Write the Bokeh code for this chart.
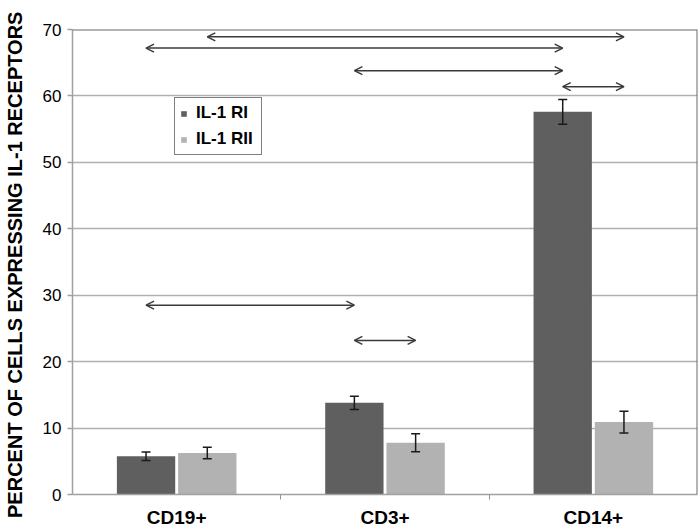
from bokeh.plotting import figure
from bokeh.models import (ColumnDataSource, Range1d, FixedTicker, Whisker, TeeHead,
                          Arrow, OpenHead, Legend, LegendItem, Span)
from bokeh.embed import file_html
from bokeh.resources import INLINE

# ---- data ----
categories = ["CD19+", "CD3+", "CD14+"]
series_names = ["IL-1 RI", "IL-1 RII"]
il1_ri = [5.75, 13.8, 57.6]
il1_ri_err = [0.63, 1.0, 1.85]
il1_rii = [6.25, 7.8, 10.9]
il1_rii_err = [0.88, 1.35, 1.65]
y_ticks = [0, 10, 20, 30, 40, 50, 60, 70]

# significance comparisons: (category index, series index) -> (category index, series index), level
cmp_from = [(0, 1), (0, 0), (1, 0), (2, 0), (0, 0), (1, 0)]
cmp_to = [(2, 1), (2, 0), (2, 0), (2, 1), (1, 0), (1, 1)]
cmp_level = [68.9, 67.2, 63.8, 61.4, 28.5, 23.2]

colors = ["#5f5f5f", "#b2b2b2"]
bar_w = 0.28
offsets = [-0.147, 0.147]

def xpos(ci, si):
    return ci + 0.5 + offsets[si]

p = figure(width=698, height=530, output_backend="svg", toolbar_location=None,
           x_range=Range1d(0, 3), y_range=Range1d(0, 70),
           min_border_left=70, min_border_right=1, min_border_top=29, min_border_bottom=33)
p.outline_line_color = None
p.background_fill_color = "white"

renderers = []
for si, (vals, errs) in enumerate([(il1_ri, il1_ri_err), (il1_rii, il1_rii_err)]):
    xs = [xpos(ci, si) for ci in range(len(categories))]
    src = ColumnDataSource(dict(x=xs, top=vals,
                                upper=[v + e for v, e in zip(vals, errs)],
                                lower=[v - e for v, e in zip(vals, errs)]))
    r = p.vbar(x="x", top="top", width=bar_w, bottom=0, source=src,
               fill_color=colors[si], line_color=None)
    renderers.append(r)
    w = Whisker(base="x", upper="upper", lower="lower", source=src, level="overlay",
                line_color="#1a1a1a", line_width=1.5,
                upper_head=TeeHead(size=9, line_color="#1a1a1a", line_width=1.5),
                lower_head=TeeHead(size=9, line_color="#1a1a1a", line_width=1.5))
    p.add_layout(w)

for (a, b, lvl) in zip(cmp_from, cmp_to, cmp_level):
    p.add_layout(Arrow(start=OpenHead(size=8, line_color="#3a3a3a", line_width=1.5),
                       end=OpenHead(size=8, line_color="#3a3a3a", line_width=1.5),
                       x_start=xpos(*a), y_start=lvl, x_end=xpos(*b), y_end=lvl,
                       line_color="#3a3a3a", line_width=1.5, level="overlay"))

# frame top/right borders
p.add_layout(Span(location=70, dimension="width", line_color="#6a6a6a", line_width=2))
p.add_layout(Span(location=3, dimension="height", line_color="#6a6a6a", line_width=2))

# axes
p.xaxis.ticker = FixedTicker(ticks=[i + 0.5 for i in range(len(categories))], minor_ticks=[1, 2])
p.xaxis.major_label_overrides = {i + 0.5: c for i, c in enumerate(categories)}
p.xaxis.major_tick_out = 0
p.xaxis.major_tick_in = 0
p.xaxis.minor_tick_out = 5
p.xaxis.minor_tick_in = 0
p.xaxis.minor_tick_line_color = "#909090"
p.xaxis.axis_line_color = "#a0a0a0"
p.xaxis.axis_line_width = 1.5
p.xaxis.major_label_text_font = "Liberation Sans"
p.xaxis.major_label_text_font_style = "bold"
p.xaxis.major_label_text_font_size = "19px"
p.xaxis.major_label_text_color = "black"
p.xaxis.major_label_standoff = 7

p.yaxis.ticker = FixedTicker(ticks=y_ticks, minor_ticks=[])
p.yaxis.major_tick_out = 5
p.yaxis.major_tick_in = 0
p.yaxis.major_tick_line_color = "#a0a0a0"
p.yaxis.major_tick_line_width = 1.5
p.yaxis.axis_line_color = "#a0a0a0"
p.yaxis.axis_line_width = 1.5
p.yaxis.major_label_text_font = "Liberation Sans"
p.yaxis.major_label_text_font_size = "17px"
p.yaxis.major_label_text_color = "black"
p.yaxis.major_label_standoff = 6
p.yaxis.axis_label = "PERCENT OF CELLS EXPRESSING  IL-1 RECEPTORS"
p.yaxis.axis_label_text_font = "Liberation Sans"
p.yaxis.axis_label_text_font_style = "bold"
p.yaxis.axis_label_text_font_size = "20px"
p.yaxis.axis_label_text_color = "black"
p.yaxis.axis_label_standoff = 14

p.xgrid.grid_line_color = None
p.ygrid.grid_line_color = "#b0b0b0"
p.ygrid.grid_line_width = 1.5

legend = Legend(items=[LegendItem(label=series_names[i], renderers=[renderers[i]]) for i in range(2)],
                location=(102, 339), orientation="vertical",
                glyph_width=7, glyph_height=7, label_standoff=9, label_width=60,
                label_text_font="Liberation Sans", label_text_font_style="bold",
                label_text_font_size="17px", label_text_color="black",
                padding=5, spacing=6, margin=0,
                border_line_color="black", border_line_width=1.5,
                background_fill_color="white", background_fill_alpha=1)
p.add_layout(legend)

open("out.html", "w").write(file_html(p, INLINE))
